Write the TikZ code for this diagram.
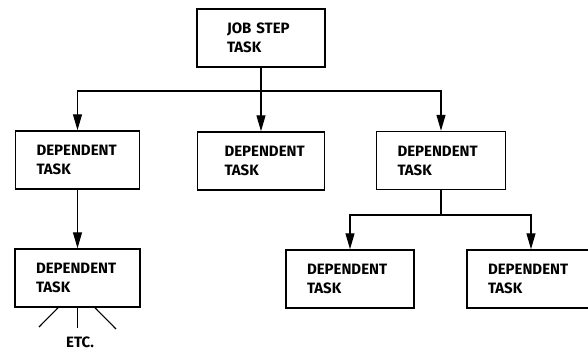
\documentclass[tikz,border=0pt]{standalone}
\usepackage{fontspec}
\newfontfamily\boxfont{Fira Sans}
\usetikzlibrary{arrows.meta}
\begin{document}
\begin{tikzpicture}[x=1pt,y=-1pt,
  taskbox/.style n args={3}{draw, line width=1.5pt, minimum height=58pt,
    inner xsep=#2pt, text width=#1pt-2*#2pt, align=left, inner ysep=0pt,
    font=\boxfont\bfseries\fontsize{15}{19}\selectfont, anchor=center},
  conn/.style={line width=1.2pt},
  arr/.style={conn, -{Triangle[length=16pt,width=9pt]}},
  etc/.style={line width=1.1pt}]
\useasboundingbox (0,0) rectangle (588,350);
\clip (0,0) rectangle (588,350);
\node[taskbox={128}{30}{}] (top) at (261,38) {JOB STEP\\TASK};
\node[taskbox={124}{21}{}] (l1) at (77.5,160) {DEPENDENT\\TASK};
\node[taskbox={127}{27}{}] (m1) at (261,161) {DEPENDENT\\TASK};
\node[taskbox={129}{21}{}] (r1) at (441,160.5) {DEPENDENT\\TASK};
\node[taskbox={125}{21}{}] (ll) at (77.5,278) {DEPENDENT\\TASK};
\node[taskbox={128}{21}{}] (rl) at (350,279) {DEPENDENT\\TASK};
\node[taskbox={128}{21}{}] (rr) at (531,279) {DEPENDENT\\TASK};
\coordinate (bus) at (261,91);
\coordinate (fork) at (441,215);
\draw[arr] (top.south) -- (m1.north);
\draw[arr] (bus) -| (l1.north);
\draw[arr] (bus) -| (r1.north);
\draw[arr] (l1.south) -- (ll.north);
\draw[conn] (r1.south) -- (fork);
\draw[arr] (fork) -| (rl.north);
\draw[arr] (fork) -| (rr.north);
\coordinate (e1) at (39,327);
\coordinate (e2) at (77.5,328);
\coordinate (e3) at (116,329);
\draw[etc] ([xshift=-19.5pt]ll.south) -- (e1);
\draw[etc] (ll.south) -- (e2);
\draw[etc] ([xshift=17.5pt]ll.south) -- (e3);
\node[font=\boxfont\bfseries\fontsize{15}{19}\selectfont, inner sep=0pt, anchor=base] (etctext) at (80,347) {ETC.};
\end{tikzpicture}
\end{document}
